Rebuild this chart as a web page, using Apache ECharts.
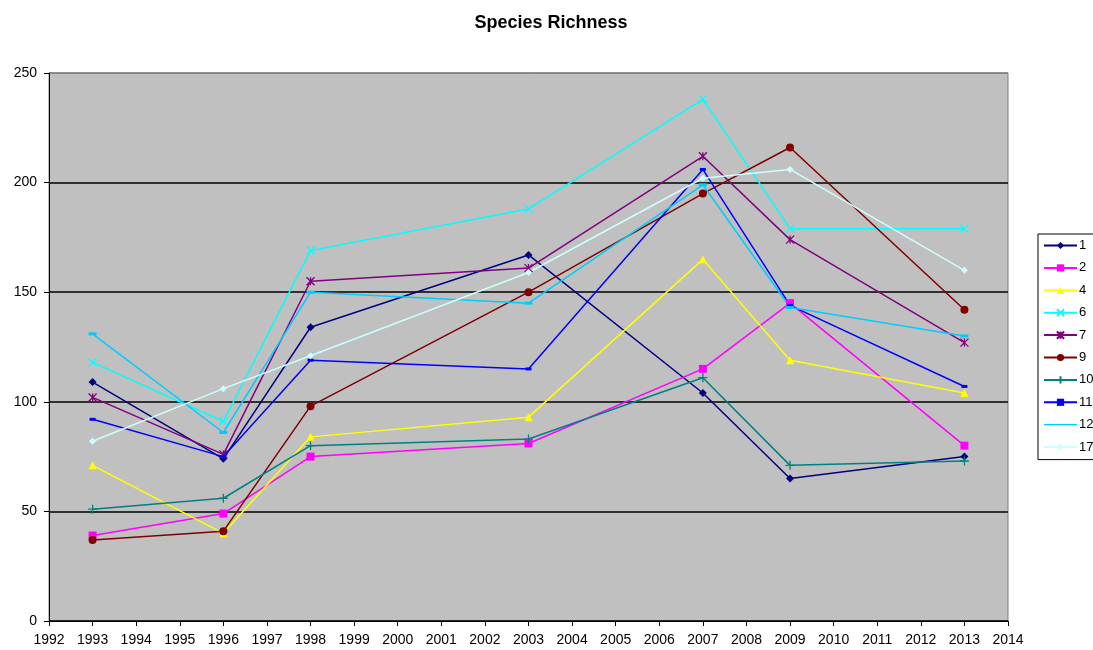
<!DOCTYPE html>
<html>
<head>
<meta charset="utf-8">
<script src="https://cdn.jsdelivr.net/npm/echarts@6/dist/echarts.min.js"></script>
<style>
  html, body { margin: 0; padding: 0; background: #fff; }
  #main { width: 1093px; height: 650px; }
</style>
</head>
<body>
<div id="main"></div>
<script>
// 年份
var years = [1993, 1996, 1998, 2003, 2007, 2009, 2013];
// 各样点数值
var s1  = [109, 74, 134, 167, 104, 65, 75];
var s2  = [39, 49, 75, 81, 115, 145, 80];
var s4  = [71, 40, 84, 93, 165, 119, 104];
var s6  = [118, 91, 169, 188, 238, 179, 179];
var s7  = [102, 76, 155, 161, 212, 174, 127];
var s9  = [37, 41, 98, 150, 195, 216, 142];
var s10 = [51, 56, 80, 83, 111, 71, 73];
var s11 = [92, 75, 119, 115, 206, 144, 107];
var s12 = [131, 86, 150, 145, 199, 143, 130];
var s17 = [82, 106, 121, 159, 202, 206, 160];

var names = ['1', '2', '4', '6', '7', '9', '10', '11', '12', '17'];
var values = [s1, s2, s4, s6, s7, s9, s10, s11, s12, s17];

var colors  = ['#000080', '#FF00FF', '#FFFF00', '#00FFFF', '#800080', '#800000', '#008080', '#0000FF', '#00CCFF', '#CCFFFF'];
var symbols = [
  'diamond', 'rect', 'triangle',
  'path://M0,0L10,10M10,0L0,10',
  'path://M0,0L10,10M10,0L0,10M5,0L5,10',
  'circle',
  'path://M5,0L5,10M0,5L10,5',
  'rect', 'rect', 'diamond'
];
var sizes = [8, 8, 8, 8, 8, 8, 9, [6, 3], [8, 3], 7];

var chart = echarts.init(document.getElementById('main'));

var series = [];
for (var i = 0; i < names.length; i++) {
  var pts = [];
  for (var j = 0; j < years.length; j++) {
    pts.push([years[j], values[i][j]]);
  }
  var isPath = symbols[i].indexOf('path://') === 0;
  series.push({
    name: names[i],
    type: 'line',
    data: pts,
    symbol: symbols[i],
    symbolSize: sizes[i],
    showAllSymbol: true,
    animation: false,
    lineStyle: { color: colors[i], width: 1.5 },
    itemStyle: {
      color: isPath ? 'none' : colors[i],
      borderColor: colors[i],
      borderWidth: isPath ? 1.3 : 0
    }
  });
}

// 图例：12 只显示线
var legendData = [];
for (var k = 0; k < names.length; k++) {
  if (names[k] === '12') {
    legendData.push({ name: names[k], icon: 'path://M0,4.4L33,4.4L33,5.6L0,5.6Z' });
  } else {
    legendData.push(names[k]);
  }
}

var option = {
  animation: false,
  title: {
    text: 'Species Richness',
    left: 546,
    top: 9,
    textAlign: 'center',
    textStyle: {
      fontFamily: 'Liberation Sans Narrow, Arial Narrow, sans-serif',
      fontWeight: 'bold',
      fontSize: 18,
      color: '#000'
    }
  },
  legend: {
    orient: 'vertical',
    left: 1038,
    top: 234,
    itemWidth: 33,
    itemHeight: 9,
    itemGap: 9.4,
    padding: [5, 20, 6, 5],
    borderColor: '#000',
    borderWidth: 1,
    backgroundColor: '#fff',
    textStyle: { fontFamily: 'Liberation Sans, Arial, sans-serif', fontSize: 13, color: '#000', padding: [0, 0, 0, -3] },
    data: legendData
  },
  grid: {
    left: 49,
    right: 85,
    top: 73,
    bottom: 29,
    show: true,
    backgroundColor: '#C0C0C0',
    borderColor: '#808080',
    borderWidth: 1
  },
  xAxis: {
    type: 'value',
    min: 1992,
    max: 2014,
    interval: 1,
    axisLine: { lineStyle: { color: '#000', width: 1 } },
    axisTick: { show: true, length: 5, lineStyle: { color: '#000' } },
    splitLine: { show: false },
    axisLabel: {
      margin: 12,
      color: '#000',
      fontFamily: 'Liberation Sans, Arial, sans-serif',
      fontSize: 14,
      formatter: function (v) { return String(v); }
    }
  },
  yAxis: {
    type: 'value',
    min: 0,
    max: 250,
    interval: 50,
    axisLine: { show: true, lineStyle: { color: '#000', width: 1 } },
    axisTick: { show: true, length: 5, lineStyle: { color: '#000' } },
    splitLine: {
      show: true,
      lineStyle: { color: ['#000', '#000', '#000', '#000', '#000', '#808080'], width: 1.5 }
    },
    axisLabel: {
      margin: 12,
      color: '#000',
      fontFamily: 'Liberation Sans, Arial, sans-serif',
      fontSize: 14
    }
  },
  series: series
};

chart.setOption(option);
</script>
</body>
</html>
